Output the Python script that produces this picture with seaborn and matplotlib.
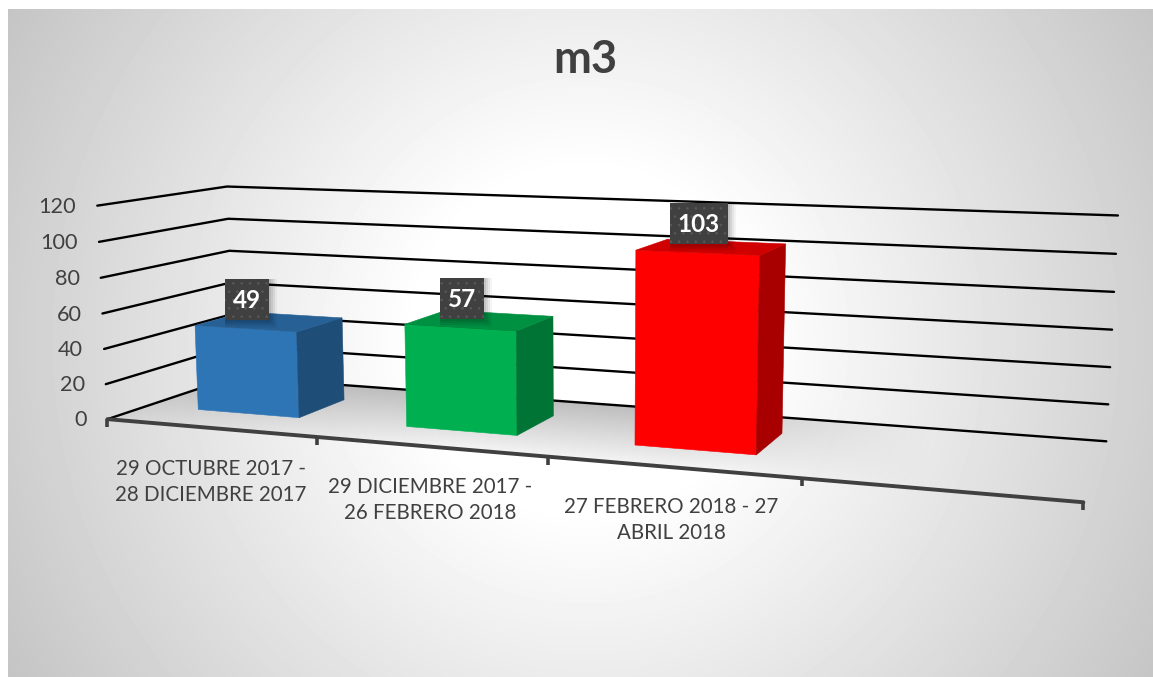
import numpy as np
import pandas as pd
import seaborn as sns
import matplotlib.pyplot as plt
from matplotlib.patches import Polygon, Rectangle

categories = ["29 OCTUBRE 2017 -\n28 DICIEMBRE 2017",
              "29 DICIEMBRE 2017 -\n26 FEBRERO 2018",
              "27 FEBRERO 2018 - 27\nABRIL 2018"]
values = [49, 57, 103]
bar_colors = ["#2E75B6", "#00B050", "#FF0000"]
y_ticks = [0, 20, 40, 60, 80, 100, 120]
title = "m3"

# where the 3d box lands in the picture: (slot, depth, value) -> pixel
calib_3d = np.array([
    (0, 0, 0), (0, 0, 20), (0, 0, 40), (0, 0, 60), (0, 0, 80), (0, 0, 100), (0, 0, 120),
    (0, 1, 0), (0, 1, 60), (0, 1, 80), (0, 1, 100), (0, 1, 120),
    (4, 1, 0), (4, 1, 20), (4, 1, 40), (4, 1, 60), (4, 1, 80), (4, 1, 100), (4, 1, 120),
    (1, 0, 0), (2, 0, 0), (3, 0, 0), (4, 0, 0)], dtype=float)
calib_px = np.array([
    (108, 418), (106, 383.5), (104, 348.5), (102.5, 313), (100, 277.5), (99, 241), (97, 206),
    (233, 376), (230, 284), (229.5, 251), (228, 219), (228, 187),
    (1107, 441), (1108, 404), (1110, 367), (1112, 329), (1114, 292), (1116, 254), (1118, 215),
    (318, 437), (548, 460), (801, 481), (1083, 500)], dtype=float)


def fit_camera(pts, px):
    rows, rhs = [], []
    for (u, d, v), (x, y) in zip(pts, px):
        rows.append([u, d, v, 1, 0, 0, 0, 0, -x * u, -x * d, -x * v])
        rows.append([0, 0, 0, 0, u, d, v, 1, -y * u, -y * d, -y * v])
        rhs += [x, y]
    p = np.linalg.lstsq(np.array(rows), np.array(rhs), rcond=None)[0]
    return np.append(p, 1).reshape(3, 4)


cam = fit_camera(calib_3d, calib_px)


def project(u, d, v):
    q = cam @ np.array([u, d, v, 1.0])
    return q[0] / q[2], q[1] / q[2]


sns.set_theme(style="white")
plt.rcParams["font.family"] = ["Lato", "DejaVu Sans"]
plt.rcParams["hatch.linewidth"] = 0.6

fig = plt.figure(figsize=(11.53, 6.77), dpi=100, facecolor="white")
ax = fig.add_axes([0, 0, 1, 1])

# chart area gradient
gx, gy = np.meshgrid(np.arange(8, 1153), np.arange(9, 677))
r = np.hypot(gx - 585, gy - 340)
shade = 255 - 0.118 * np.clip(r - 170, 0, None)
ax.imshow(shade, cmap="gray", vmin=0, vmax=255, extent=(8, 1153, 677, 9),
          aspect="auto", zorder=0)

# floor, darker at the back and fading out to the right
floor = [project(0, 0, 0), project(0, 1, 0), project(4, 1, 0), project(4, 0, 0)]
fx, fy = np.meshgrid(np.arange(100, 1125), np.arange(370, 510))
y_back = floor[1][1] + (fx - floor[1][0]) * (floor[2][1] - floor[1][1]) / (floor[2][0] - floor[1][0])
y_front = floor[0][1] + (fx - floor[0][0]) * (floor[3][1] - floor[0][1]) / (floor[3][0] - floor[0][0])
t = np.clip((fy - y_back) / (y_front - y_back), 0, 1)
fade = np.clip((930 - fx) / 250, 0, 1)
rgba = np.zeros(fx.shape + (4,))
rgba[..., :3] = 0.70
rgba[..., 3] = (1 - 0.85 * t) * fade * 0.85
im = ax.imshow(rgba, extent=(100, 1125, 510, 370), aspect="auto", zorder=1)
im.set_clip_path(Polygon(floor, transform=ax.transData))

# gridlines on the left and back walls
for v in y_ticks:
    pts = [project(0, 0, v), project(0, 1, v), project(4, 1, v)]
    ax.plot(*zip(*pts), color="black", lw=1.7, zorder=2, solid_joinstyle="round")
    x0, y0 = pts[0]
    ax.text(x0 - 21, y0 + 1, str(v), ha="right", va="center", fontsize=15.6, color="#404040")

# category axis
ax.plot(*zip(project(0, 0, 0), project(4, 0, 0)), color="#404040", lw=2.8, zorder=2)
for u in range(5):
    x0, y0 = project(u, 0, 0)
    ax.plot([x0, x0], [y0, y0 + 8], color="#404040", lw=2.6, zorder=2, solid_capstyle="butt")

label_pos = [(211, 482), (430, 500), (671, 520)]
for text, (lx, ly) in zip(categories, label_pos):
    ax.text(lx, ly, text, ha="center", va="center", fontsize=14.8, color="#404040",
            linespacing=1.42)

# bars come out of seaborn flat, then get extruded through the camera
helper = fig.add_axes([0, 0, 0.1, 0.1])
table = pd.DataFrame({"cat": categories, "value": values})
sns.barplot(data=table, x="cat", y="value", hue="cat", palette=bar_colors, width=0.495,
            saturation=1, legend=False, ax=helper)
helper.set_visible(False)

d0, d1 = 0.30, 0.70
for rect, value in zip(helper.patches, values):
    u0 = rect.get_x() + 0.5
    u1 = u0 + rect.get_width()
    v = rect.get_height()
    c = np.array(rect.get_facecolor()[:3])
    faces = [
        ([(u0, d0, 0), (u1, d0, 0), (u1, d0, v), (u0, d0, v)], c),
        ([(u1, d0, 0), (u1, d1, 0), (u1, d1, v), (u1, d0, v)], c * 0.66),
        ([(u0, d0, v), (u1, d0, v), (u1, d1, v), (u0, d1, v)], c * 0.82),
    ]
    for corners, col in faces:
        ax.add_patch(Polygon([project(*p) for p in corners], facecolor=col, edgecolor=col,
                             lw=0.4, zorder=3))

    # data label sits above the middle of the front top edge
    cx, cy = project((u0 + u1) / 2, d0, v)
    cx += 2
    cy -= 29.5
    text = str(value)
    w = 16 + 14 * len(text)
    h = 41
    for off, a in [(8, 0.04), (6, 0.06), (4, 0.07), (2, 0.08)]:
        ax.add_patch(Rectangle((cx - w / 2, cy - h / 2), w + off, h + off, facecolor="black",
                               edgecolor="none", alpha=a, zorder=4))
    ax.add_patch(Rectangle((cx - w / 2, cy - h / 2), w, h, facecolor="#404040",
                           edgecolor="#585858", hatch="..", lw=0, zorder=5))
    ax.text(cx, cy + 1, text, ha="center", va="center", fontsize=17.5, fontweight="bold",
            color="white", zorder=6)

ax.text(585, 60, title, ha="center", va="center", fontsize=32.5, fontweight="bold", color="#404040")

ax.set_xlim(0, 1153)
ax.set_ylim(677, 0)
ax.axis("off")

fig.savefig("out.png", dpi=100, facecolor="white")
